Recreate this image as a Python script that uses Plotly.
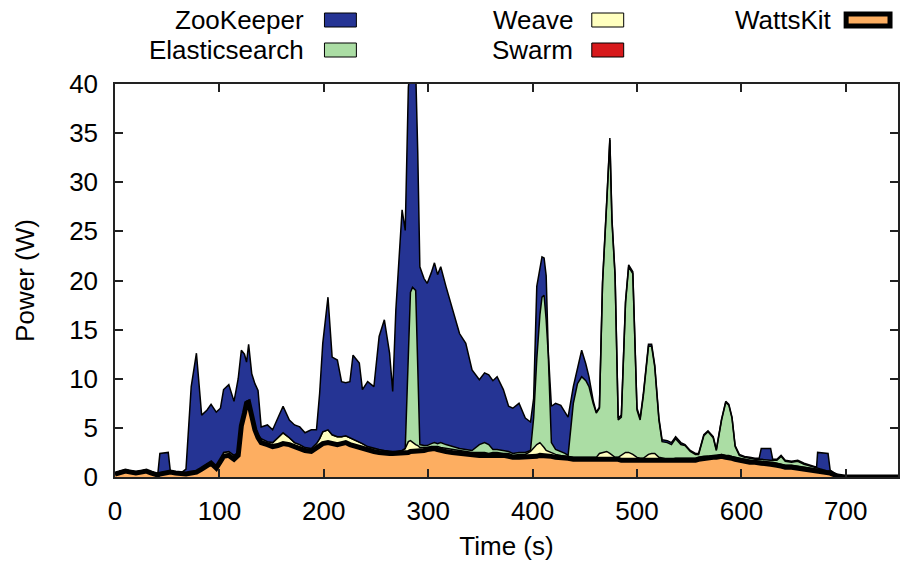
import plotly.graph_objects as go

# ---------------- data ----------------
time_s = [
    0, 5, 10, 15, 20, 25, 30, 35, 41, 43,
    51, 53, 58, 63, 68, 73, 78, 83, 88, 92,
    97, 101, 104, 109, 114, 118, 121, 124, 126, 128,
    131, 134, 137, 140, 146, 151, 156, 161, 167, 172,
    177, 182, 188, 193, 196, 199, 204, 208, 213, 217,
    221, 225, 228, 234, 237, 242, 248, 253, 258, 263,
    266, 269, 275, 278, 281, 283, 285, 288, 290, 292,
    296, 299, 303, 306, 309, 312, 317, 323, 330, 336,
    342, 349, 354, 358, 362, 366, 372, 377, 381, 387,
    393, 398, 401, 404, 407, 409, 411, 413, 415, 418,
    422, 427, 431, 434, 439, 443, 447, 451, 454, 458,
    461, 464, 467, 471, 474, 476, 479, 482, 485, 489,
    492, 496, 500, 503, 506, 511, 514, 517, 521, 524,
    529, 533, 537, 542, 546, 551, 556, 559, 564, 568,
    573, 576, 581, 585, 588, 591, 594, 598, 603, 608,
    613, 617, 619, 628, 630, 634, 638, 642, 648, 654,
    660, 666, 672, 673, 683, 685, 692, 699, 710, 720,
    730, 740, 750,
]

wattskit = [
    0.3, 0.5, 0.6, 0.5, 0.4, 0.5, 0.6, 0.4, 0.2, 0.3,
    0.5, 0.5, 0.4, 0.3, 0.3, 0.4, 0.5, 0.8, 1.2, 1.4,
    0.9, 1.5, 2.1, 2.2, 1.8, 2.2, 5.2, 6.5, 7.5, 7.6,
    6.0, 4.8, 4.0, 3.5, 3.3, 3.1, 3.2, 3.4, 3.3, 3.1,
    3.0, 2.7, 2.6, 2.9, 3.1, 3.4, 3.5, 3.4, 3.3, 3.4,
    3.5, 3.3, 3.2, 3.0, 2.9, 2.7, 2.6, 2.5, 2.4, 2.4,
    2.4, 2.4, 2.4, 2.4, 2.5, 2.6, 2.6, 2.6, 2.7, 2.7,
    2.7, 2.8, 2.9, 2.9, 2.8, 2.7, 2.6, 2.5, 2.4, 2.4,
    2.3, 2.2, 2.2, 2.2, 2.3, 2.3, 2.2, 2.1, 2.0, 2.0,
    2.0, 2.1, 2.1, 2.1, 2.2, 2.2, 2.2, 2.1, 2.1, 2.1,
    2.0, 2.0, 1.9, 1.9, 1.8, 1.8, 1.8, 1.8, 1.8, 1.8,
    1.8, 1.8, 1.9, 1.9, 1.9, 1.8, 1.8, 1.8, 1.7, 1.7,
    1.7, 1.7, 1.7, 1.7, 1.7, 1.7, 1.7, 1.7, 1.7, 1.7,
    1.6, 1.6, 1.7, 1.7, 1.7, 1.7, 1.7, 1.8, 1.9, 1.9,
    2.0, 2.0, 2.1, 2.0, 2.0, 1.9, 1.8, 1.7, 1.6, 1.5,
    1.5, 1.4, 1.4, 1.3, 1.3, 1.2, 1.1, 1.0, 1.0, 0.9,
    0.8, 0.7, 0.6, 0.6, 0.4, 0.4, 0.1, 0.0, 0.0, 0.0,
    0.0, 0.0, 0.0,
]

swarm = [
    0.05, 0.05, 0.05, 0.05, 0.05, 0.05, 0.05, 0.05, 0.05, 0.05,
    0.05, 0.05, 0.05, 0.05, 0.05, 0.05, 0.05, 0.05, 0.05, 0.05,
    0.05, 0.05, 0.05, 0.05, 0.05, 0.05, 0.05, 0.05, 0.05, 0.05,
    0.05, 0.05, 0.05, 0.05, 0.05, 0.05, 0.05, 0.05, 0.05, 0.05,
    0.05, 0.05, 0.05, 0.05, 0.05, 0.05, 0.05, 0.05, 0.05, 0.05,
    0.05, 0.05, 0.05, 0.05, 0.05, 0.05, 0.05, 0.05, 0.05, 0.05,
    0.05, 0.05, 0.05, 0.05, 0.05, 0.05, 0.05, 0.05, 0.05, 0.05,
    0.05, 0.05, 0.05, 0.05, 0.05, 0.05, 0.05, 0.05, 0.05, 0.05,
    0.05, 0.05, 0.05, 0.05, 0.05, 0.05, 0.05, 0.05, 0.05, 0.05,
    0.05, 0.05, 0.05, 0.05, 0.05, 0.05, 0.05, 0.05, 0.05, 0.05,
    0.05, 0.05, 0.05, 0.05, 0.05, 0.05, 0.05, 0.05, 0.05, 0.05,
    0.05, 0.05, 0.05, 0.05, 0.05, 0.05, 0.05, 0.05, 0.05, 0.05,
    0.05, 0.05, 0.05, 0.05, 0.05, 0.05, 0.05, 0.05, 0.05, 0.05,
    0.05, 0.05, 0.05, 0.05, 0.05, 0.05, 0.05, 0.05, 0.05, 0.05,
    0.05, 0.05, 0.05, 0.05, 0.05, 0.05, 0.05, 0.05, 0.05, 0.05,
    0.05, 0.05, 0.05, 0.05, 0.05, 0.05, 0.05, 0.05, 0.05, 0.05,
    0.05, 0.05, 0.05, 0.05, 0.05, 0.05, 0.02, 0.0, 0.0, 0.0,
    0.0, 0.0, 0.0,
]

weave = [
    0.05, 0.05, 0.05, 0.05, 0.05, 0.05, 0.05, 0.05, 0.05, 0.05,
    0.05, 0.05, 0.05, 0.05, 0.05, 0.05, 0.05, 0.05, 0.05, 0.05,
    0.05, 0.15, 0.35, 0.35, 0.35, 0.25, 0.25, 0.25, 0.15, 0.15,
    0.25, 0.25, 0.25, 0.35, 0.25, 0.35, 0.75, 1.05, 0.65, 0.35,
    0.25, 0.25, 0.25, 0.45, 0.75, 1.15, 1.25, 0.85, 0.75, 0.65,
    0.65, 0.65, 0.65, 0.55, 0.45, 0.35, 0.25, 0.25, 0.25, 0.15,
    0.15, 0.15, 0.25, 0.45, 1.05, 1.05, 0.85, 0.65, 0.45, 0.25,
    0.25, 0.15, 0.15, 0.15, 0.25, 0.25, 0.25, 0.25, 0.25, 0.15,
    0.15, 0.25, 0.25, 0.15, 0.15, 0.15, 0.15, 0.25, 0.15, 0.25,
    0.25, 0.45, 0.85, 1.15, 1.25, 1.05, 0.75, 0.55, 0.45, 0.35,
    0.25, 0.15, 0.15, 0.15, 0.15, 0.15, 0.15, 0.15, 0.15, 0.15,
    0.15, 0.55, 0.55, 0.65, 0.45, 0.35, 0.15, 0.15, 0.45, 0.75,
    0.75, 0.55, 0.25, 0.15, 0.15, 0.55, 0.65, 0.65, 0.25, 0.15,
    0.15, 0.15, 0.15, 0.15, 0.15, 0.15, 0.15, 0.15, 0.15, 0.15,
    0.15, 0.15, 0.15, 0.15, 0.15, 0.15, 0.15, 0.15, 0.15, 0.15,
    0.05, 0.15, 0.15, 0.15, 0.15, 0.15, 0.15, 0.15, 0.15, 0.15,
    0.15, 0.15, 0.15, 0.15, 0.05, 0.05, 0.02, 0.0, 0.0, 0.0,
    0.0, 0.0, 0.0,
]

elasticsearch = [
    0, 0, 0, 0, 0, 0, 0, 0, 0, 0,
    0, 0, 0, 0, 0, 0, 0, 0, 0, 0,
    0, 0, 0, 0, 0, 0, 0, 0, 0, 0,
    0, 0, 0, 0, 0, 0, 0, 0, 0, 0,
    0, 0, 0, 0, 0, 0, 0, 0, 0, 0,
    0, 0, 0, 0, 0, 0, 0, 0, 0, 0,
    0, 0, 0, 0, 8.0, 15.1, 15.8, 15.7, 8.0, 0.3,
    0.2, 0.2, 0.3, 0.4, 0.3, 0.5, 0.4, 0.3, 0.2, 0.2,
    0.2, 0.8, 1.0, 0.9, 0.3, 0.3, 0.3, 0.2, 0.2, 0.2,
    0.2, 0.1, 3.0, 8.7, 13.0, 15.0, 15.5, 13.3, 9.9, 1.0,
    0.5, 0.4, 0.3, 0.1, 5.5, 7.5, 8.2, 7.8, 7.2, 5.5,
    4.5, 4.6, 17.2, 25.3, 31.9, 23.9, 18.4, 3.8, 3.9, 15.2,
    18.9, 18.4, 4.8, 3.9, 6.3, 11.0, 10.9, 8.8, 3.8, 1.7,
    1.7, 1.5, 2.0, 1.4, 1.3, 0.7, 0.4, 0.3, 2.1, 2.5,
    1.8, 0.5, 3.5, 5.4, 5.1, 3.9, 1.1, 0.3, 0.2, 0.2,
    0.2, 0.2, 0.2, 0.2, 0.2, 0.3, 0.8, 0.4, 0.3, 0.5,
    0.3, 0.2, 0.1, 0.1, 0.1, 0.1, 0.02, 0.0, 0.0, 0.0,
    0.0, 0.0, 0.0,
]

zookeeper = [
    0, 0, 0, 0, 0, 0, 0, 0, 0, 2.0,
    1.9, 0, 0, 0, 0.4, 8.7, 12.0, 5.4, 5.5, 5.9,
    5.6, 5.3, 6.4, 6.8, 5.5, 7.5, 7.4, 5.7, 4.0, 5.7,
    4.2, 4.4, 4.5, 1.2, 1.7, 1.3, 2.0, 2.7, 1.8, 1.8,
    1.8, 1.5, 1.9, 1.4, 4.6, 9.0, 13.5, 7.9, 7.8, 5.6,
    5.4, 5.7, 8.5, 8.0, 5.5, 6.6, 6.3, 11.5, 13.3, 10.0,
    6.1, 14.4, 24.5, 22.2, 28.1, 22.7, 20.9, 22.5, 21.8, 18.1,
    17.0, 16.5, 17.4, 18.3, 17.2, 17.9, 16.1, 14.2, 11.7, 10.8,
    8.2, 6.6, 7.1, 7.1, 7.0, 7.4, 6.2, 4.6, 4.6, 5.0,
    3.5, 2.9, 2.0, 7.4, 5.0, 4.1, 3.8, 4.5, 0.3, 3.7,
    4.7, 4.7, 4.2, 3.9, 1.7, 1.7, 2.7, 1.7, 1.0, 0.3,
    0.1, 0.1, 0.2, 0.2, 0.2, 0.2, 0.2, 0.2, 0.2, 0.2,
    0.2, 0.2, 0.2, 0.2, 0.2, 0.2, 0.2, 0.2, 0.2, 0.2,
    0.2, 0.2, 0.2, 0.2, 0.1, 0.1, 0.1, 0.1, 0.1, 0.1,
    0.1, 0.1, 0.1, 0.1, 0.1, 0.1, 0.1, 0.1, 0.1, 0.1,
    0.1, 0.1, 1.1, 1.2, 0.1, 0.1, 0.1, 0.1, 0.1, 0.1,
    0.1, 0.1, 0.1, 1.6, 1.8, 0.1, 0.02, 0.0, 0.0, 0.0,
    0.0, 0.0, 0.0,
]

series_names = ["WattsKit", "Swarm", "Weave", "Elasticsearch", "ZooKeeper"]
series_colors = ["#fdae61", "#d7191c", "#ffffbf", "#abdda4", "#253494"]
series_values = [wattskit, swarm, weave, elasticsearch, zookeeper]

x_ticks = [0, 100, 200, 300, 400, 500, 600, 700]
y_ticks = [0, 5, 10, 15, 20, 25, 30, 35, 40]

# ---------------- layout geometry ----------------
W, H = 902, 565
PL, PR, PT, PB = 115, 900, 84, 477   # plot area in pixels
FONT = "Liberation Sans, Arial, Helvetica, sans-serif"
FS = 26


def px(x):
    return (x - PL) / (PR - PL)


def py(y):
    return (PB - y) / (PB - PT)


fig = go.Figure()

for name, vals, col in zip(series_names, series_values, series_colors):
    fig.add_trace(go.Scatter(
        x=time_s, y=vals, name=name, stackgroup="power", mode="lines",
        line=dict(color="black", width=1.5), fillcolor=col,
        showlegend=False,
    ))

# thick WattsKit outline drawn on top
fig.add_trace(go.Scatter(
    x=time_s, y=wattskit, mode="lines",
    line=dict(color="black", width=5),
    showlegend=False, hoverinfo="skip",
))

# ---------------- manual gnuplot-style key ----------------
legend_items = [
    # name, text right edge px, row center y px, box x0, box x1, color, thick
    ("ZooKeeper", 306, 20, 325, 357, "#253494", False),
    ("Elasticsearch", 306, 50, 325, 357, "#abdda4", False),
    ("Weave", 576, 20, 593, 625, "#ffffbf", False),
    ("Swarm", 576, 50, 593, 625, "#d7191c", False),
    ("WattsKit", 836, 20, 848, 892, "#fdae61", True),
]
shapes = []
annotations = []
for name, tx, cy, bx0, bx1, col, thick in legend_items:
    annotations.append(dict(
        x=px(tx), y=py(cy), xref="paper", yref="paper",
        xanchor="right", yanchor="middle", text=name, showarrow=False,
        font=dict(family=FONT, size=FS, color="black"),
    ))
    if thick:
        shapes.append(dict(
            type="rect", xref="paper", yref="paper",
            x0=px(bx0), x1=px(bx1), y0=py(cy + 6), y1=py(cy - 6),
            fillcolor=col, line=dict(color="black", width=5),
        ))
    else:
        shapes.append(dict(
            type="rect", xref="paper", yref="paper",
            x0=px(bx0), x1=px(bx1), y0=py(cy + 7), y1=py(cy - 7),
            fillcolor=col, line=dict(color="black", width=1),
        ))

axis_common = dict(
    showgrid=False, zeroline=False,
    showline=True, linecolor="#222222", linewidth=1.5, mirror="ticks",
    ticks="inside", ticklen=8, tickwidth=1.5, tickcolor="#222222",
    tickfont=dict(family=FONT, size=FS, color="black"),
)

fig.update_layout(
    width=W, height=H,
    margin=dict(l=PL, r=W - PR, t=PT, b=H - PB, pad=0),
    paper_bgcolor="white", plot_bgcolor="white",
    showlegend=False,
    shapes=shapes, annotations=annotations,
    xaxis=dict(
        range=[0, 750], tickvals=x_ticks, ticktext=[str(v) for v in x_ticks],
        title=dict(text="Time (s)", font=dict(family=FONT, size=FS, color="black"), standoff=12),
        ticklabelstandoff=10,
        **axis_common,
    ),
    yaxis=dict(
        range=[0, 40], tickvals=y_ticks, ticktext=[str(v) for v in y_ticks],
        title=dict(text="Power (W)", font=dict(family=FONT, size=FS, color="black"), standoff=27),
        ticklabelstandoff=10,
        **axis_common,
    ),
)

fig.write_html("out.html")
